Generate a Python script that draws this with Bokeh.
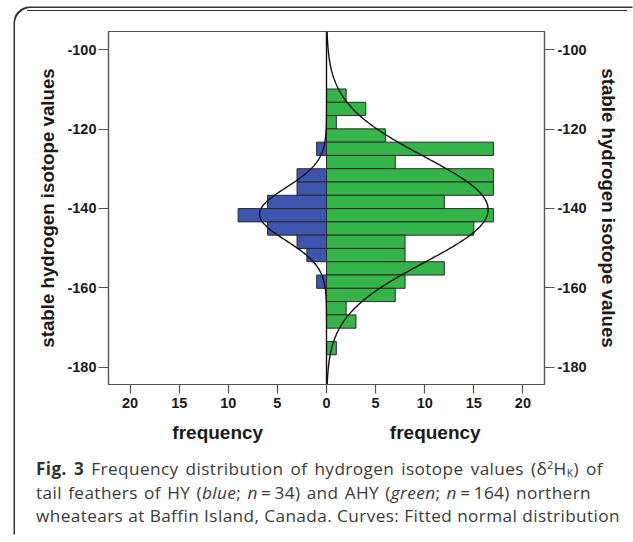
import numpy as np
from bokeh.plotting import figure
from bokeh.models import Range1d, LinearAxis, FixedTicker, Div, ColumnDataSource
from bokeh.layouts import column
from bokeh.embed import file_html
from bokeh.resources import INLINE

# ---- data ----
bin_edges = [-109.90, -113.25, -116.60, -119.95, -123.30, -126.65, -130.00,
             -133.35, -136.70, -140.05, -143.40, -146.75, -150.10, -153.45,
             -156.80, -160.15, -163.50, -166.85, -170.20, -173.55, -176.90]
hy_counts = [0, 0, 0, 0, 1, 0, 3, 3, 6, 9, 6, 3, 2, 0, 1, 0, 0, 0, 0, 0]      # blue, n=34
ahy_counts = [2, 4, 1, 6, 17, 7, 17, 17, 12, 17, 15, 8, 8, 12, 8, 7, 2, 3, 0, 1]  # green, n=164
y_ticks = [-180, -160, -140, -120, -100]
y_tick_labels = ["-180", "-160", "-140", "-120", "-100"]
x_ticks = [-20, -15, -10, -5, 0, 5, 10, 15, 20]
x_tick_labels = ["20", "15", "10", "5", "0", "5", "10", "15", "20"]
x_title = "frequency"
y_title = "stable hydrogen isotope values"

Y_MIN, Y_MAX = -184.4, -95.4
X_MIN, X_MAX = -22.2, 22.2

BLUE = "#3e55ad"
GREEN = "#34b549"
EDGE = "#2a2a2a"
AXC = "#555555"
FONT = "Liberation Sans"

top = np.array(bin_edges[:-1])
bot = np.array(bin_edges[1:])


def bars(counts, sign):
    c = np.array(counts, dtype=float)
    m = c > 0
    if sign > 0:
        return dict(left=np.zeros(m.sum()), right=c[m], top=top[m], bottom=bot[m])
    return dict(left=-c[m], right=np.zeros(m.sum()), top=top[m], bottom=bot[m])


def fitted(counts):
    c = np.array(counts, dtype=float)
    centers = (top + bot) / 2
    n = c.sum()
    mu = (c * centers).sum() / n
    sd = np.sqrt((c * (centers - mu) ** 2).sum() / (n - 1))
    w = abs(bin_edges[0] - bin_edges[1])
    ys = np.linspace(Y_MIN, Y_MAX, 500)
    xs = n * w / (sd * np.sqrt(2 * np.pi)) * np.exp(-0.5 * ((ys - mu) / sd) ** 2)
    return xs, ys


p = figure(width=609, height=440, output_backend="svg", toolbar_location=None,
           x_range=Range1d(X_MIN, X_MAX), y_range=Range1d(Y_MIN, Y_MAX),
           min_border_left=93, min_border_right=80, min_border_top=21,
           min_border_bottom=66)
p.grid.visible = False
p.outline_line_color = AXC
p.outline_line_width = 1.2
p.background_fill_color = "white"
p.border_fill_color = None

p.quad(source=ColumnDataSource(bars(hy_counts, -1)), left="left", right="right",
       top="top", bottom="bottom", fill_color=BLUE, line_color=EDGE, line_width=1)
p.quad(source=ColumnDataSource(bars(ahy_counts, 1)), left="left", right="right",
       top="top", bottom="bottom", fill_color=GREEN, line_color=EDGE, line_width=1)

gx, gy = fitted(ahy_counts)
bx, by = fitted(hy_counts)
p.line(gx, gy, line_color="#111111", line_width=1.4)
p.line(-bx, by, line_color="#111111", line_width=1.4)


def style_axis(ax):
    ax.axis_line_color = AXC
    ax.axis_line_width = 1.2
    ax.major_tick_line_color = AXC
    ax.major_tick_line_width = 1.2
    ax.major_tick_out = 10
    ax.major_tick_in = 0
    ax.minor_tick_line_color = None
    ax.major_label_text_font = FONT
    ax.major_label_text_font_style = "bold"
    ax.major_label_text_font_size = "14.5px"
    ax.major_label_text_color = "#1a1a1a"
    ax.axis_label_text_font = FONT
    ax.axis_label_text_font_style = "bold"
    ax.axis_label_text_font_size = "18.7px"
    ax.axis_label_text_color = "#1a1a1a"


y_over = {t: s for t, s in zip(y_ticks, y_tick_labels)}

ly = p.yaxis[0]
ly.ticker = FixedTicker(ticks=y_ticks)
ly.major_label_overrides = y_over
ly.axis_label = y_title
style_axis(ly)
ly.major_label_standoff = 2
ly.axis_label_standoff = 6

ry = LinearAxis(ticker=FixedTicker(ticks=y_ticks), axis_label=y_title)
ry.major_label_overrides = y_over
style_axis(ry)
ry.major_label_standoff = 3
ry.axis_label_standoff = 8
p.add_layout(ry, "right")

bx_axis = p.xaxis[0]
bx_axis.ticker = FixedTicker(ticks=x_ticks)
bx_axis.major_label_overrides = {t: s for t, s in zip(x_ticks, x_tick_labels)}
style_axis(bx_axis)
bx_axis.major_tick_out = 9
bx_axis.major_label_standoff = 4
# two "frequency" titles, one under each half, centred on x = -11 and x = +11
bx_axis.axis_label = x_title + "\u00a0" * 24 + x_title
bx_axis.axis_label_text_font_size = "19px"
bx_axis.axis_label_standoff = 11

sup = 'style="font-size:10.5px;position:relative;top:-6px"'
sub = 'style="font-size:10.5px;position:relative;top:2px"'
line_style = ('height:23.5px;line-height:23.5px;white-space:nowrap;'
              'text-align:justify;text-align-last:justify;')
caption_lines = [
    ('<b style="color:#333">Fig. 3</b> Frequency distribution of hydrogen isotope values '
     f'(&delta;<span {sup}>2</span>H<span {sub}>K</span>) of', 567),
    ('tail feathers of HY (<i>blue</i>; <i>n</i>&#8201;=&#8201;34) and AHY '
     '(<i>green</i>; <i>n</i>&#8201;=&#8201;164) northern', 555),
    ('wheatears at Baffin Island, Canada. Curves: Fitted normal distribution', 584),
]
caption_html = (
    '<div style="font-family:\'Open Sans\';font-size:17.2px;letter-spacing:0.4px;'
    'color:#3a3a3a;padding-left:16.5px;padding-top:2px;">'
    + "".join(f'<div style="width:{w}px;{line_style}">{t}</div>' for t, w in caption_lines)
    + '</div>'
)
cap = Div(text=caption_html, width=609, height=76)

# top edge of the caption box (pulled up to the box's top)
topline = Div(text='<div style="height:0;border-top:1.5px solid #333;'
                   'margin-top:-10px;margin-left:12px;width:600px;"></div>',
              width=609, height=2, margin=(0, 0, 0, 0))

# caption box frame: left edge with a rounded top-left corner
layout = column(topline, p, cap, styles={
    "box-shadow": "-1.5px -1.5px 0 0 #333",
    "border-top-left-radius": "16px",
    "margin-left": "14.5px",
    "margin-top": "8px",
})

open("out.html", "w").write(file_html(layout, INLINE))
